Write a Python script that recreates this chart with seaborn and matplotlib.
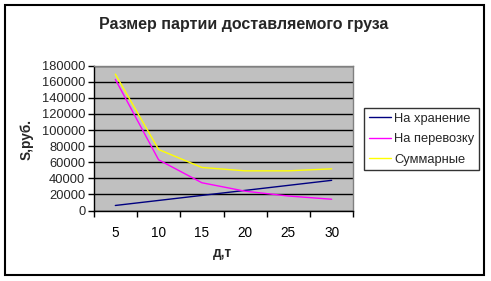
import matplotlib
matplotlib.use("Agg")
import matplotlib.pyplot as plt
import matplotlib.patches as mpatches
import seaborn as sns
import pandas as pd

categories = ["5", "10", "15", "20", "25", "30"]
storage = [6250, 12500, 18750, 25000, 31250, 37500]
transport = [163000, 63000, 34500, 24000, 18000, 14000]
total = [169500, 75800, 53500, 49300, 49300, 51800]
series_names = ["На хранение", "На перевозку", "Суммарные"]
yticks = list(range(0, 180001, 20000))

sns.set_theme(style="white")
plt.rcParams["font.family"] = ["Liberation Sans", "DejaVu Sans"]

rows = []
for name, vals in zip(series_names, [storage, transport, total]):
    for c, v in zip(categories, vals):
        rows.append({"cat": categories.index(c), "val": v, "series": name})
df = pd.DataFrame(rows)

W, H = 491, 281
fig = plt.figure(figsize=(W / 100, H / 100), dpi=100)
fig.patch.set_facecolor("white")
ax = fig.add_axes([93.7 / W, 1 - 210.5 / H, (353.3 - 93.7) / W, (210.5 - 65.7) / H])
ax.set_facecolor("#C0C0C0")

palette = {"На хранение": "#000080", "На перевозку": "#FF00FF", "Суммарные": "#FFFF00"}
sns.lineplot(data=df, x="cat", y="val", hue="series", palette=palette,
             linewidth=1.0, ax=ax, legend=True, zorder=3)

ax.set_xlim(-0.5, 5.5)
ax.set_ylim(0, 180000)
ax.set_yticks(yticks)
ax.set_yticklabels([str(t) for t in yticks], fontsize=9.3)
ax.set_xticks(range(len(categories)))
ax.set_xticklabels(categories, fontsize=9.8)
ax.set_xticks([i - 0.5 for i in range(len(categories) + 1)], minor=True)
ax.tick_params(axis="x", which="major", length=0, pad=11, colors="black")
ax.tick_params(axis="x", which="minor", length=4, width=1, color="black", direction="out", bottom=True)
ax.tick_params(axis="y", which="major", length=4, width=1, color="black", direction="out", left=True, pad=2)
ax.grid(axis="y", color="black", linewidth=1.0, zorder=1)
ax.set_axisbelow(True)
for side in ["top", "right"]:
    ax.spines[side].set_color("#808080")
    ax.spines[side].set_linewidth(1)
ax.spines["left"].set_color("black")
ax.spines["bottom"].set_color("black")
ax.spines["left"].set_linewidth(1)
ax.spines["bottom"].set_linewidth(1)

ax.set_xlabel("")
ax.set_ylabel("")
fig.text(222 / W, 1 - 253 / H, "д,т", fontsize=9.8, fontweight="bold", ha="center", va="center")
fig.text(27 / W, 1 - 139 / H, "S,руб.", fontsize=9.8, fontweight="bold", ha="center", va="center", rotation=90)
fig.text(244 / W, 1 - 24 / H, "Размер партии доставляемого груза", fontsize=11.5,
         fontweight="bold", ha="center", va="center")

handles, labels = ax.get_legend_handles_labels()
ax.get_legend().remove()
leg = fig.legend(handles, labels, loc="upper left", bbox_to_anchor=(364.3 / W, 1 - 108.3 / H),
                 borderaxespad=0, frameon=True, fancybox=False, fontsize=9.3,
                 handlelength=1.75, handletextpad=0.2, labelspacing=0.65,
                 borderpad=0.35, edgecolor="black")
leg.get_frame().set_linewidth(1)
for l in leg.get_lines():
    l.set_linewidth(1.0)

fig.patches.append(mpatches.Rectangle((5 / W, 1 - 275 / H), (484 - 5) / W, (275 - 5) / H,
                                      transform=fig.transFigure, fill=False,
                                      edgecolor="black", linewidth=1.5))

fig.savefig("out.png", dpi=100)
